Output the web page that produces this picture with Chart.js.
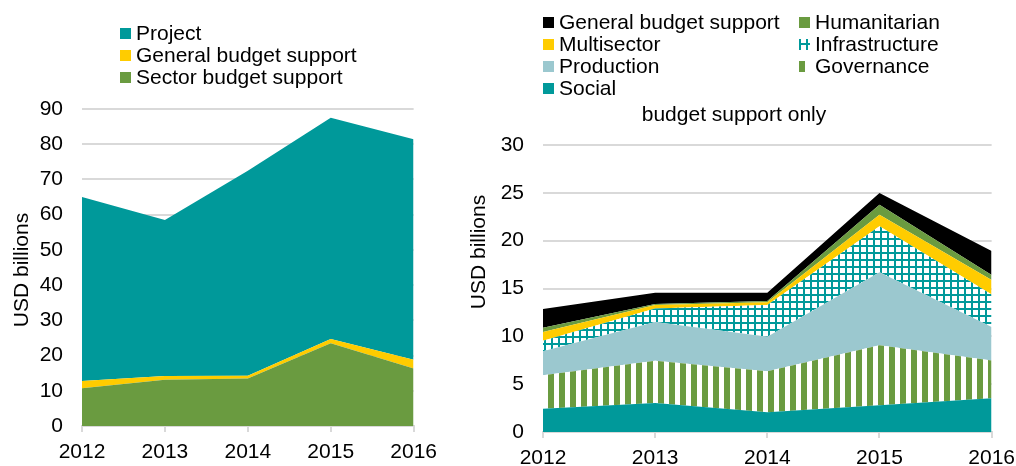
<!DOCTYPE html>
<html>
<head>
<meta charset="utf-8">
<script src="https://cdn.jsdelivr.net/npm/chart.js@4.4.1/dist/chart.umd.min.js"></script>
<style>
  body { margin: 0; background: #fff; font-family: "Liberation Sans", Arial, sans-serif; color: #000; }
  #wrap { position: relative; width: 1016px; height: 466px; overflow: hidden; }
  .box { position: absolute; top: 0; }
  .lg { position: absolute; height: 22px; line-height: 22px; font-size: 21px; white-space: nowrap; }
  .lg canvas { position: absolute; left: 0; top: 6px; }
  .lg .tx { position: absolute; left: 16px; top: 0; }
  .rot { position: absolute; width: 200px; text-align: center; font-size: 21px; line-height: 22px; transform: rotate(-90deg); white-space: nowrap; }
  .ttl { position: absolute; width: 300px; text-align: center; font-size: 21px; line-height: 22px; white-space: nowrap; }
</style>
</head>
<body>
<div id="wrap">
  <div class="box" style="left:0;width:445px;height:466px"><canvas id="left" width="445" height="466"></canvas></div>
  <div class="box" style="left:460px;width:563px;height:466px"><canvas id="right" width="563" height="466"></canvas></div>
  <div class="rot" style="left:-79px;top:259px">USD billions</div>
  <div class="rot" style="left:378px;top:241px">USD billions</div>
  <div class="ttl" style="left:584px;top:103px">budget support only</div>
</div>
<script>
const years = ['2012', '2013', '2014', '2015', '2016'];

// left chart: all aid, USD billions (stacked bottom to top)
const sectorBudget = [10.7, 13.1, 13.5, 23.5, 16.3];
const generalBudget = [2.1, 1.1, 0.8, 1.2, 2.5];
const project = [52.2, 44.3, 58.2, 62.8, 62.6];
const leftTicks = [0, 10, 20, 30, 40, 50, 60, 70, 80, 90];

// right chart: budget support only, by sector (stacked bottom to top)
const social = [2.44, 3.04, 2.06, 2.79, 3.53];
const governance = [3.50, 4.40, 4.30, 6.29, 3.94];
const production = [2.51, 4.06, 3.59, 7.62, 3.50];
const infrastructure = [1.08, 1.40, 3.32, 4.80, 3.39];
const multisector = [0.91, 0.37, 0.28, 1.20, 1.54];
const humanitarian = [0.46, 0.11, 0.14, 1.05, 0.50];
const gbsOnly = [1.95, 1.18, 0.87, 1.22, 2.53];
const rightTicks = [0, 5, 10, 15, 20, 25, 30];

const TEAL = '#00999a';
const GREEN = '#6a9b40';
const YELLOW = '#ffcc00';
const LIGHTBLUE = '#9bc8cf';
const GRIDC = '#d9d9d9';
const font = { family: '"Liberation Sans", Arial, sans-serif', size: 21 };

function gridPattern(ctx) {
  const c = document.createElement('canvas');
  c.width = 7; c.height = 7;
  const g = c.getContext('2d');
  g.fillStyle = '#fff'; g.fillRect(0, 0, 7, 7);
  g.fillStyle = TEAL;
  g.fillRect(0, 0, 2, 7);
  g.fillRect(0, 0, 7, 2);
  return (ctx || g).createPattern(c, 'repeat');
}
function stripePattern(ctx) {
  const c = document.createElement('canvas');
  c.width = 11; c.height = 11;
  const g = c.getContext('2d');
  g.fillStyle = '#fff'; g.fillRect(0, 0, 11, 11);
  g.fillStyle = GREEN;
  g.fillRect(0, 0, 6, 11);
  return (ctx || g).createPattern(c, 'repeat');
}
const gridFill = gridPattern();
const stripeFill = stripePattern();

function area(label, data, color, first) {
  return {
    label: label,
    data: data,
    backgroundColor: color,
    borderColor: 'transparent',
    borderWidth: 0,
    pointRadius: 0,
    tension: 0,
    fill: first ? 'origin' : '-1'
  };
}

function opts(pad, yWidth, xHeight, ticks) {
  return {
    responsive: false,
    animation: false,
    devicePixelRatio: 1,
    layout: { padding: pad },
    plugins: { legend: { display: false }, tooltip: { enabled: false } },
    scales: {
      x: {
        offset: false,
        grid: { drawOnChartArea: false, color: GRIDC, lineWidth: 2, tickLength: 6 },
        border: { color: GRIDC, width: 2 },
        ticks: { font: font, color: '#000', padding: 8, maxRotation: 0 },
        afterFit: s => { s.height = xHeight; }
      },
      y: {
        stacked: true,
        min: ticks[0],
        max: ticks[ticks.length - 1],
        afterBuildTicks: s => { s.ticks = ticks.map(v => ({ value: v })); },
        grid: { color: GRIDC, lineWidth: 2, drawTicks: false },
        border: { display: false },
        ticks: { font: font, color: '#000', padding: 19 },
        afterFit: s => { s.width = yWidth; }
      }
    }
  };
}

new Chart(document.getElementById('left'), {
  type: 'line',
  data: {
    labels: years,
    datasets: [
      area('Sector budget support', sectorBudget, GREEN, true),
      area('General budget support', generalBudget, YELLOW),
      area('Project', project, TEAL)
    ]
  },
  options: opts({ left: 0, right: 26, top: 109, bottom: 0 }, 82, 40, leftTicks)
});

new Chart(document.getElementById('right'), {
  type: 'line',
  data: {
    labels: years,
    datasets: [
      area('Social', social, TEAL, true),
      area('Governance', governance, stripeFill),
      area('Production', production, LIGHTBLUE),
      area('Infrastructure', infrastructure, gridFill),
      area('Multisector', multisector, YELLOW),
      area('Humanitarian', humanitarian, GREEN),
      area('General budget support', gbsOnly, '#000')
    ]
  },
  options: opts({ left: 0, right: 24, top: 145, bottom: 0 }, 83, 34, rightTicks)
});

// HTML legends
const wrap = document.getElementById('wrap');
function legendItem(x, cy, text, fill, dy) {
  const d = document.createElement('div');
  d.className = 'lg';
  d.style.left = x + 'px';
  d.style.top = (cy - 11) + 'px';
  const c = document.createElement('canvas');
  c.width = 11; c.height = 11;
  const g = c.getContext('2d');
  g.translate(0, dy || 0);
  g.fillStyle = fill;
  g.fillRect(0, -20, 11, 40);
  d.appendChild(c);
  const t = document.createElement('span');
  t.className = 'tx';
  t.textContent = text;
  d.appendChild(t);
  wrap.appendChild(d);
}
legendItem(120, 33, 'Project', TEAL);
legendItem(120, 55, 'General budget support', YELLOW);
legendItem(120, 77, 'Sector budget support', GREEN);

legendItem(543, 22, 'General budget support', '#000');
legendItem(543, 44, 'Multisector', YELLOW);
legendItem(543, 66, 'Production', LIGHTBLUE);
legendItem(543, 88, 'Social', TEAL);
legendItem(799, 22, 'Humanitarian', GREEN);
legendItem(799, 44, 'Infrastructure', gridFill, 4);
legendItem(799, 66, 'Governance', stripeFill);
</script>
</body>
</html>
